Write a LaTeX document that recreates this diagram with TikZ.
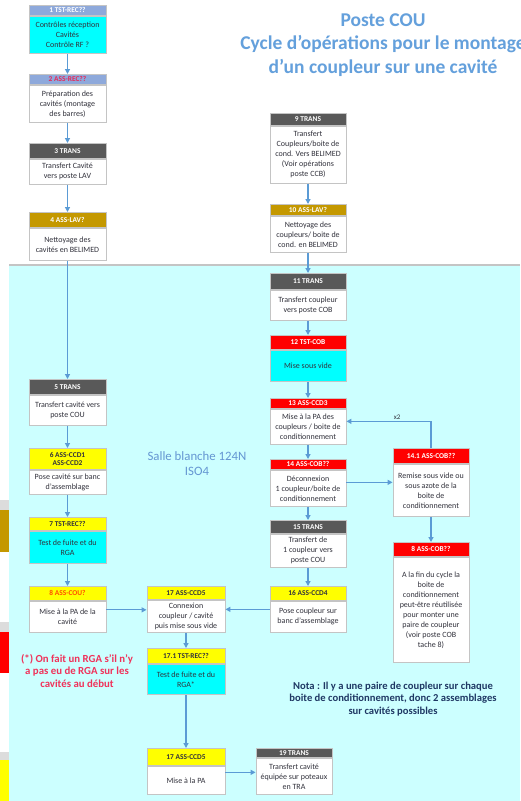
\documentclass[tikz,border=0pt]{standalone}
\usepackage{fontspec}
\setmainfont{Carlito}
\usepackage{tikz}
\usetikzlibrary{arrows.meta,positioning}
\definecolor{headgrey}{RGB}{89,89,89}
\definecolor{headgold}{RGB}{196,152,0}
\definecolor{headred}{RGB}{255,0,0}
\definecolor{headyel}{RGB}{255,255,0}
\definecolor{headlav}{RGB}{142,169,219}
\definecolor{cyanbody}{RGB}{0,255,255}
\definecolor{cleanroom}{RGB}{204,255,255}
\definecolor{boxgrey}{RGB}{196,196,196}
\definecolor{arrowblue}{RGB}{91,155,213}
\definecolor{titleblue}{RGB}{100,160,220}
\definecolor{sallblue}{RGB}{100,150,210}
\definecolor{notered}{RGB}{240,50,90}
\definecolor{notanavy}{RGB}{31,56,100}
\definecolor{txtdark}{RGB}{50,50,60}
\definecolor{pinkred}{RGB}{230,40,90}
\definecolor{orangered}{RGB}{255,80,0}
\tikzset{
  base/.style={align=center, inner sep=1pt, draw=boxgrey, line width=0.9pt},
  hd/.style={base, anchor=north, font=\fontsize{7.4}{8}\selectfont\bfseries, minimum height=#1},
  bd/.style={base, fill=white, text=txtdark, font=\fontsize{8}{10}\selectfont, minimum height=#1},
  colL/.style={minimum width=77},
  colM/.style={minimum width=78},
  colR/.style={minimum width=76},
  hgrey/.style={fill=headgrey, text=white},
  hgold/.style={fill=headgold, text=white},
  hred/.style={fill=headred, text=white},
  hyel/.style={fill=headyel, text=txtdark},
  hlav/.style={fill=headlav, text=white},
  cyanb/.style={fill=cyanbody},
  arr/.style={-{Triangle[length=5pt,width=5pt]}, line width=1.2pt, draw=arrowblue},
  lbl/.style={font=\fontsize{7}{8}\selectfont, text=txtdark, inner sep=1.5pt},
  titre/.style={font=\fontsize{19.5}{23.5}\selectfont\bfseries, text=titleblue, align=center},
  zone/.style={font=\fontsize{12.8}{15}\selectfont, text=sallblue, align=center},
  remark/.style={font=\fontsize{10.8}{12.5}\selectfont\bfseries, text=notered, align=center},
  nota/.style={font=\fontsize{10.6}{12.5}\selectfont\bfseries, text=notanavy, align=center},
}
\begin{document}
\begin{tikzpicture}[x=1pt,y=-1pt]
  \useasboundingbox (0,0) rectangle (520,801);
  \clip (0,0) rectangle (520,801);
  % fond et salle blanche
  \fill[white] (0,0) rectangle (520,801);
  \fill[cleanroom] (9,265) rectangle (520,801);
  \draw[boxgrey, line width=1.2pt] (9,265) -- (520,265);
  % bandes en bord gauche
  \fill[boxgrey!60] (0,500) rectangle (9,510);
  \fill[headgold] (0,510) rectangle (9,552);
  \fill[boxgrey!60] (0,622) rectangle (9,632);
  \fill[headred] (0,632) rectangle (9,673);
  \fill[boxgrey!60] (0,752) rectangle (9,760);
  \fill[headyel] (0,760) rectangle (9,801);
  % titres
  \node[titre] (titre) at (383,45) {Poste COU\\Cycle d’opérations pour le montage\\d’un coupleur sur une cavité};
  \node[zone] (salle) at (197,464) {Salle blanche 124N\\ISO4};
  \node[remark] (rga) at (77,671) {(*) On fait un RGA s’il n’y\\a pas eu de RGA sur les\\cavités au début};
  \node[nota] (nota) at (393,699) {Nota : Il y a une paire de coupleur sur chaque\\boite de conditionnement, donc 2 assemblages\\sur cavités possibles};
  % colonne cavite
  \node[hd=10,hlav,colL] (h1) at (67.5,5) {1 TST-REC??};
  \node[bd=37,cyanb,colL,below=0pt of h1] (b1) {Contrôles réception\\Cavités\\Contrôle RF ?};
  \node[hd=10,hlav,colL,text=pinkred] (h2) at (67.5,74) {2 ASS-REC??};
  \node[bd=37,colL,below=0pt of h2] (b2) {Préparation des\\cavités (montage\\des barres)};
  \node[hd=15,hgrey,colL] (h3) at (67.5,143) {3 TRANS};
  \node[bd=25,colL,below=0pt of h3] (b3) {Transfert Cavité\\vers poste LAV};
  \node[hd=15,hgold,colL] (h4) at (67.5,212) {4 ASS-LAV?};
  \node[bd=32,colL,below=0pt of h4] (b4) {Nettoyage des\\cavités en BELIMED};
  \node[hd=15,hgrey,colL] (h5) at (67.5,379) {5 TRANS};
  \node[bd=30,colL,below=0pt of h5] (b5) {Transfert cavité vers\\poste COU};
  \node[hd=21,hyel,colL,font=\fontsize{7.4}{8.5}\selectfont\bfseries] (h6) at (67.5,448) {6 ASS-CCD1\\ASS-CCD2};
  \node[bd=24,colL,below=0pt of h6] (b6) {Pose cavité sur banc\\d’assemblage};
  \node[hd=13,hyel,colL] (h7) at (67.5,517) {7 TST-REC??};
  \node[bd=32,cyanb,colL,below=0pt of h7] (b7) {Test de fuite et du\\RGA};
  \node[hd=14,hyel,colL,text=orangered] (h8l) at (67.5,586) {8 ASS-COU?};
  \node[bd=31,colL,below=0pt of h8l] (b8l) {Mise à la PA de la\\cavité};
  % colonne assemblage
  \node[hd=13,hyel,colM] (h17a) at (186,586) {17 ASS-CCD5};
  \node[bd=32,colM,below=0pt of h17a] (b17a) {Connexion\\coupleur / cavité\\puis mise sous vide};
  \node[hd=15,hyel,colM] (h171) at (186,648) {17.1 TST-REC??};
  \node[bd=30,cyanb,colM,below=0pt of h171] (b171) {Test de fuite et du\\RGA*};
  \node[hd=17,hyel,colM] (h17b) at (186,748) {17 ASS-CCD5};
  \node[bd=28,colM,below=0pt of h17b] (b17b) {Mise à la PA};
  \node[hd=9,hgrey,colR] (h19) at (294,748) {19 TRANS};
  \node[bd=36,colR,below=0pt of h19] (b19) {Transfert cavité\\équipée sur poteaux\\en TRA};
  % colonne coupleur
  \node[hd=12,hgrey,colR] (h9) at (308,113) {9 TRANS};
  \node[bd=57,colR,below=0pt of h9] (b9) {Transfert\\Coupleurs/boite de\\cond. Vers BELIMED\\(Voir opérations\\poste CCB)};
  \node[hd=11,hgold,colR] (h10) at (308,204) {10 ASS-LAV?};
  \node[bd=36,colR,below=0pt of h10] (b10) {Nettoyage des\\coupleurs/ boite de\\cond. en BELIMED};
  \node[hd=16,hgrey,colR] (h11) at (308,273) {11 TRANS};
  \node[bd=30,colR,below=0pt of h11] (b11) {Transfert coupleur\\vers poste COB};
  \node[hd=14,hred,colR] (h12) at (308,335) {12 TST-COB};
  \node[bd=31,cyanb,colR,below=0pt of h12] (b12) {Mise sous vide};
  \node[hd=10,hred,colR] (h13) at (308,398) {13 ASS-CCD3};
  \node[bd=35,colR,below=0pt of h13] (b13) {Mise à la PA des\\coupleurs / boite de\\conditionnement};
  \node[hd=10,hred,colR] (h14) at (308,459) {14 ASS-COB??};
  \node[bd=36,colR,below=0pt of h14] (b14) {Déconnexion\\1 coupleur/boite de\\conditionnement};
  \node[hd=13,hgrey,colR] (h15) at (308,520) {15 TRANS};
  \node[bd=33,colR,below=0pt of h15] (b15) {Transfert de\\1 coupleur vers\\poste COU};
  \node[hd=14,hyel,colR] (h16) at (308,586) {16 ASS-CCD4};
  \node[bd=31,colR,below=0pt of h16] (b16) {Pose coupleur sur\\banc d’assemblage};
  % boite de conditionnement
  \node[hd=15,hred,colR] (h141) at (431,448) {14.1 ASS-COB??};
  \node[bd=52,colR,below=0pt of h141] (b141) {Remise sous vide ou\\sous azote de la\\boite de\\conditionnement};
  \node[hd=14,hred,colR] (h8r) at (431,542) {8 ASS-COB??};
  \node[bd=105,colR,below=0pt of h8r] (b8r) {A la fin du cycle la\\boite de\\conditionnement\\peut-être réutilisée\\pour monter une\\paire de coupleur\\(voir poste COB\\tache 8)};
  % liaisons
  \foreach \a/\b in {b1/h2,b2/h3,b3/h4,b4/h5,b5/h6,b6/h7,b7/h8l,b9/h10,b10/h11,b11/h12,b12/h13,b13/h14,b14/h15,b15/h16,b17a/h171,b171/h17b,b141/h8r}{\draw[arr] (\a) -- (\b);}
  \draw[arr] ([yshift=7pt]b8l.east) -- ([yshift=7pt]b8l.east -| b17a.west);
  \draw[arr] ([yshift=7.5pt]b16.west) -- ([yshift=7.5pt]b16.west -| b17a.east);
  \draw[arr] ([yshift=6pt]b14.east) -- ([yshift=6pt]b14.east -| b141.west);
  \draw[arr] (h141) |- ([yshift=5.5pt]b13.east) node[pos=0.7,above,lbl]{x2};
  \draw[arr] ([yshift=8pt]b17b.east) -- ([yshift=8pt]b17b.east -| b19.west);
\end{tikzpicture}
\end{document}
